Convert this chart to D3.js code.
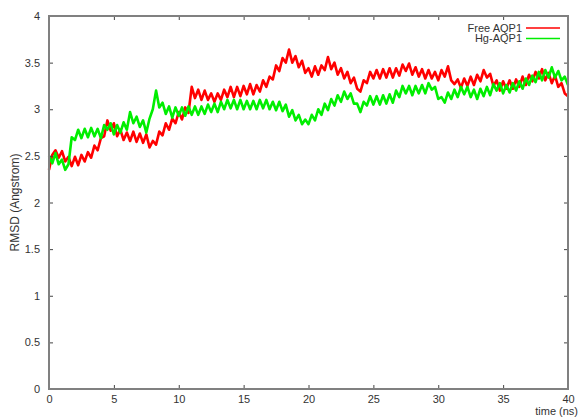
<!DOCTYPE html>
<html>
<head>
<meta charset="utf-8">
<script src="https://cdn.jsdelivr.net/npm/d3@7"></script>
<style>
  html, body { margin: 0; padding: 0; background: #fff; }
  svg { display: block; font-family: "Liberation Sans", Arial, sans-serif; }
</style>
</head>
<body>
<svg id="chart" width="579" height="417"></svg>
<script>
// RMSD, one value every 0.25 ns from 0 to 40 ns
var timeStep = 0.25;
var freeAQP1 = [
  2.35, 2.51, 2.56, 2.48, 2.55, 2.44, 2.49, 2.39, 2.49, 2.40, 2.51, 2.44, 2.54, 2.48, 2.61, 2.56,
  2.69, 2.71, 2.88, 2.77, 2.85, 2.71, 2.78, 2.67, 2.75, 2.66, 2.76, 2.65, 2.74, 2.64, 2.73, 2.59,
  2.66, 2.62, 2.76, 2.72, 2.85, 2.78, 2.90, 2.85, 2.97, 2.89, 3.02, 2.96, 3.24, 3.12, 3.21, 3.10,
  3.20, 3.10, 3.17, 3.08, 3.17, 3.10, 3.21, 3.13, 3.24, 3.13, 3.24, 3.14, 3.25, 3.16, 3.27, 3.16,
  3.26, 3.19, 3.31, 3.24, 3.35, 3.32, 3.47, 3.41, 3.55, 3.50, 3.64, 3.50, 3.57, 3.45, 3.52, 3.39,
  3.44, 3.35, 3.46, 3.37, 3.47, 3.42, 3.56, 3.43, 3.50, 3.37, 3.44, 3.33, 3.40, 3.28, 3.34, 3.22,
  3.19, 3.31, 3.28, 3.40, 3.33, 3.42, 3.33, 3.43, 3.34, 3.44, 3.34, 3.44, 3.36, 3.48, 3.41, 3.49,
  3.37, 3.45, 3.35, 3.43, 3.33, 3.42, 3.33, 3.40, 3.31, 3.42, 3.35, 3.46, 3.31, 3.27, 3.32, 3.23,
  3.33, 3.25, 3.35, 3.26, 3.37, 3.30, 3.42, 3.34, 3.38, 3.25, 3.31, 3.20, 3.30, 3.22, 3.31, 3.22,
  3.32, 3.24, 3.35, 3.26, 3.37, 3.30, 3.40, 3.33, 3.43, 3.31, 3.39, 3.28, 3.36, 3.24, 3.28, 3.17,
  3.14
];
var hgAQP1 = [
  2.50, 2.42, 2.53, 2.41, 2.46, 2.35, 2.41, 2.70, 2.67, 2.78, 2.69, 2.79, 2.70, 2.80, 2.71, 2.79,
  2.69, 2.83, 2.78, 2.85, 2.73, 2.83, 2.75, 2.86, 2.78, 2.97, 2.85, 2.92, 2.81, 2.88, 2.75, 2.90,
  3.00, 3.20, 3.02, 3.07, 2.95, 3.03, 2.91, 3.02, 2.93, 3.02, 2.93, 3.03, 2.94, 3.03, 2.94, 3.03,
  2.95, 3.05, 2.97, 3.06, 2.97, 3.08, 3.00, 3.10, 3.01, 3.10, 3.00, 3.10, 3.00, 3.09, 3.00, 3.09,
  3.00, 3.10, 3.01, 3.10, 3.00, 3.08, 2.99, 3.08, 2.98, 3.05, 2.92, 2.99, 2.88, 2.94, 2.84, 2.89,
  2.84, 2.94, 2.88, 3.00, 2.94, 3.06, 2.99, 3.11, 3.04, 3.15, 3.08, 3.19, 3.11, 3.17, 3.06, 3.06,
  2.97, 3.08, 3.04, 3.14, 3.05, 3.14, 3.05, 3.15, 3.06, 3.16, 3.07, 3.20, 3.13, 3.25, 3.17, 3.25,
  3.15, 3.25, 3.17, 3.26, 3.17, 3.28, 3.21, 3.24, 3.11, 3.13, 3.07, 3.18, 3.11, 3.21, 3.13, 3.24,
  3.16, 3.24, 3.13, 3.21, 3.11, 3.22, 3.14, 3.24, 3.15, 3.27, 3.20, 3.28, 3.17, 3.26, 3.18, 3.28,
  3.20, 3.30, 3.22, 3.33, 3.26, 3.36, 3.29, 3.40, 3.31, 3.42, 3.34, 3.45, 3.34, 3.41, 3.31, 3.35,
  3.26
];
var seriesNames = ["Free AQP1", "Hg-AQP1"];
var seriesColors = ["#ff0000", "#00ee00"];
var xTicks = [0, 5, 10, 15, 20, 25, 30, 35, 40];
var yTicks = [0, 0.5, 1, 1.5, 2, 2.5, 3, 3.5, 4];

var W = 579, H = 417;
var margin = { top: 16, right: 11, bottom: 28, left: 49 };
var iw = W - margin.left - margin.right;
var ih = H - margin.top - margin.bottom;
var frame = "#808080";
var textCol = "#333";

var x = d3.scaleLinear().domain([0, 40]).range([0, iw]);
var y = d3.scaleLinear().domain([0, 4]).range([ih, 0]);

var svg = d3.select("#chart");
var g = svg.append("g").attr("transform", "translate(" + margin.left + "," + margin.top + ")");

// data lines first (green over red, as in the source), frame drawn over them
var line = d3.line()
  .x(function (d, i) { return x(i * timeStep); })
  .y(function (d) { return y(d); });

[freeAQP1, hgAQP1].forEach(function (vals, k) {
  g.append("path")
    .datum(vals)
    .attr("fill", "none")
    .attr("stroke", seriesColors[k])
    .attr("stroke-width", 2.6)
    .attr("stroke-linejoin", "round")
    .attr("d", line);
});

// axes: gnuplot style, ticks inward and mirrored
function styleAxis(sel) {
  sel.select(".domain").remove();
  sel.selectAll(".tick line").attr("stroke", "#444");
  sel.selectAll(".tick text").attr("fill", textCol).style("font-size", "11px");
}

g.append("g")
  .attr("transform", "translate(0," + ih + ")")
  .call(d3.axisBottom(x).tickValues(xTicks).tickSize(-4).tickPadding(6).tickFormat(d3.format("d")))
  .call(styleAxis);

g.append("g")
  .call(d3.axisTop(x).tickValues(xTicks.slice(1, -1)).tickSize(-4).tickFormat(""))
  .call(styleAxis);

g.append("g")
  .call(d3.axisLeft(y).tickValues(yTicks).tickSize(-4).tickPadding(9).tickFormat(d3.format("~g")))
  .call(styleAxis);

g.append("g")
  .attr("transform", "translate(" + iw + ",0)")
  .call(d3.axisRight(y).tickValues(yTicks.slice(1, -1)).tickSize(-4).tickFormat(""))
  .call(styleAxis);

g.append("rect")
  .attr("width", iw)
  .attr("height", ih)
  .attr("fill", "none")
  .attr("stroke", frame)
  .attr("stroke-width", 2);

// legend, top right inside the frame
var leg = g.append("g").attr("transform", "translate(" + (iw - 46) + ",12)");
seriesNames.forEach(function (name, k) {
  var row = leg.append("g").attr("transform", "translate(0," + (k * 10.5) + ")");
  row.append("text")
    .attr("x", 0)
    .attr("dy", "0.35em")
    .attr("text-anchor", "end")
    .attr("fill", textCol)
    .style("font-size", "11px")
    .text(name);
  row.append("line")
    .attr("x1", 4).attr("x2", 38)
    .attr("stroke", seriesColors[k])
    .attr("stroke-width", 1.6);
});

// axis titles
svg.append("text")
  .attr("transform", "translate(19," + (margin.top + ih / 2) + ") rotate(-90)")
  .attr("text-anchor", "middle")
  .attr("fill", textCol)
  .style("font-size", "12px")
  .text("RMSD (Angstrom)");

svg.append("text")
  .attr("x", W - 1)
  .attr("y", 415)
  .attr("text-anchor", "end")
  .attr("fill", textCol)
  .style("font-size", "11px")
  .text("time (ns)");
</script>
</body>
</html>
